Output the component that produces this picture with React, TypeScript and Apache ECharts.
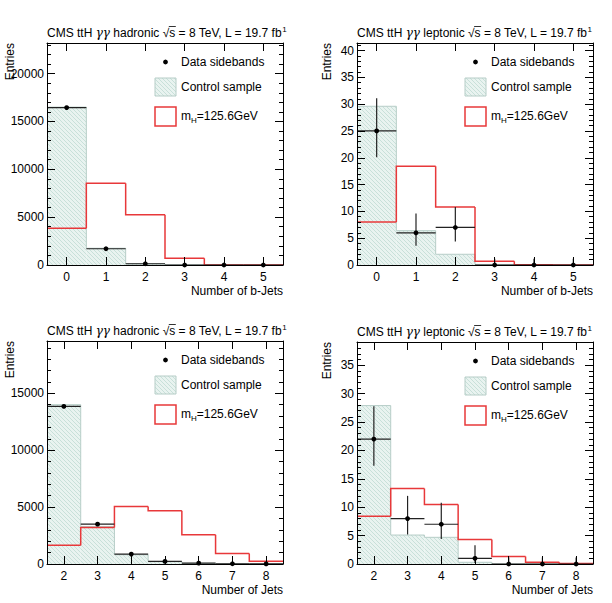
import React, { useEffect, useRef } from "react";
import * as echarts from "echarts";

// ---------------- data ----------------
const bjetCats = [0, 1, 2, 3, 4, 5];
const jetCats = [2, 3, 4, 5, 6, 7, 8];

// hadronic, number of b-jets
const hadBjetControl = [16500, 1750, 130, 10, 0, 0];
const hadBjetData = [16450, 1700, 130, 0, 0, 0];
const hadBjetErrUp = [128, 41, 11, 1.15, 1.15, 1.15];
const hadBjetErrDown = [128, 41, 11, 0, 0, 0];
const hadBjetSignal = [3840, 8550, 5240, 700, 0, 0];

// leptonic, number of b-jets
const lepBjetControl = [29.6, 6.4, 2.0, 0.1, 0, 0];
const lepBjetData = [25, 6, 7, 0, 0, 0];
const lepBjetErrUp = [6.1, 3.6, 3.8, 1.15, 1.15, 1.15];
const lepBjetErrDown = [4.9, 2.4, 2.6, 0, 0, 0];
const lepBjetSignal = [8.0, 18.4, 10.8, 0.7, 0.03, 0.02];

// hadronic, number of jets
const hadJetControl = [14000, 3300, 815, 200, 60, 15, 5];
const hadJetData = [13850, 3500, 870, 230, 80, 20, 5];
const hadJetErrUp = [118, 59, 30, 15, 9, 4.5, 2.2];
const hadJetErrDown = [118, 59, 30, 15, 9, 4.5, 2.2];
const hadJetSignal = [1650, 3200, 5050, 4675, 2570, 930, 240];

// leptonic, number of jets
const lepJetControl = [27.9, 5.1, 4.7, 0.3, 0, 0, 0];
const lepJetData = [22, 8, 7, 1, 0, 0, 0];
const lepJetErrUp = [5.8, 4.0, 3.8, 2.3, 1.15, 1.15, 1.15];
const lepJetErrDown = [4.7, 2.8, 2.6, 0.83, 0, 0, 0];
const lepJetSignal = [8.4, 13.3, 10.5, 4.3, 1.3, 0.3, 0.1];

// axis ranges / tick labels
const hadBjetYTicks = [0, 5000, 10000, 15000, 20000];
const lepBjetYTicks = [0, 5, 10, 15, 20, 25, 30, 35, 40];
const hadJetYTicks = [0, 5000, 10000, 15000];
const lepJetYTicks = [0, 5, 10, 15, 20, 25, 30, 35];
const yMaxes = [23200, 41.4, 19600, 39.1];
const yMinorSteps = [1000, 1, 1000, 1];

const channels = ["hadronic", "leptonic", "hadronic", "leptonic"];
const xTitles = ["Number of b-Jets", "Number of b-Jets", "Number of Jets", "Number of Jets"];
const legendLabels = ["Data sidebands", "Control sample"];

// ---------------- layout ----------------
const layouts = [
  { left: 47, top: 43, width: 236, height: 222 },
  { left: 357, top: 43, width: 236, height: 222 },
  { left: 47, top: 341, width: 236, height: 223 },
  { left: 357, top: 342, width: 236, height: 222 },
];
const FONT = '"Liberation Sans", Arial, Helvetica, sans-serif';
const GFONT = '"DejaVu Serif", serif';
const RED = "#e8383a";
const CTRL_LINE = "#b6cdc7";

const panels = [
  { cats: bjetCats, control: hadBjetControl, data: hadBjetData, up: hadBjetErrUp, down: hadBjetErrDown, signal: hadBjetSignal, yTicks: hadBjetYTicks },
  { cats: bjetCats, control: lepBjetControl, data: lepBjetData, up: lepBjetErrUp, down: lepBjetErrDown, signal: lepBjetSignal, yTicks: lepBjetYTicks },
  { cats: jetCats, control: hadJetControl, data: hadJetData, up: hadJetErrUp, down: hadJetErrDown, signal: hadJetSignal, yTicks: hadJetYTicks },
  { cats: jetCats, control: lepJetControl, data: lepJetData, up: lepJetErrUp, down: lepJetErrDown, signal: lepJetSignal, yTicks: lepJetYTicks },
];

function makeHatch(): any {
  const c = document.createElement("canvas");
  c.width = 4;
  c.height = 4;
  const ctx = c.getContext("2d")!;
  ctx.fillStyle = "#e9f3f0";
  ctx.fillRect(0, 0, 4, 4);
  ctx.strokeStyle = "#c8e0d9";
  ctx.lineWidth = 1;
  ctx.beginPath();
  ctx.moveTo(0, 0);
  ctx.lineTo(4, 4);
  ctx.moveTo(-1, 3);
  ctx.lineTo(1, 5);
  ctx.moveTo(3, -1);
  ctx.lineTo(5, 1);
  ctx.stroke();
  return { image: c, repeat: "repeat" };
}

function measure(text: string, font: string): number {
  const c = document.createElement("canvas");
  const ctx = c.getContext("2d")!;
  ctx.font = font;
  return ctx.measureText(text).width;
}

function buildOption(hatch: any) {
  const grid: any[] = [];
  const xAxis: any[] = [];
  const yAxis: any[] = [];
  const series: any[] = [];
  const graphic: any[] = [];

  panels.forEach((p, i) => {
    const L = layouts[i];
    grid.push({ ...L, containLabel: false, outerBoundsMode: "none" });
    const xmin = p.cats[0] - 0.5;
    const xmax = p.cats[p.cats.length - 1] + 0.5;
    const baseX = {
      type: "value",
      gridIndex: i,
      min: xmin,
      max: xmax,
      z: 5,
      splitLine: { show: false },
      axisLine: { show: true, onZero: false, lineStyle: { color: "#000", width: 1 } },
    };
    xAxis.push({
      ...baseX,
      position: "bottom",
      axisTick: { show: true, inside: true, length: 8, customValues: p.cats, lineStyle: { color: "#000" } },
      axisLabel: { show: true, customValues: p.cats, color: "#000", fontSize: 12, fontFamily: FONT, margin: 6, formatter: (v: number) => String(v) },
    });
    xAxis.push({
      ...baseX,
      position: "top",
      axisTick: { show: true, inside: true, length: 8, customValues: p.cats, lineStyle: { color: "#000" } },
      axisLabel: { show: false },
    });
    const ymax = yMaxes[i];
    const minors: number[] = [];
    for (let v = 0; v <= ymax + 1e-9; v += yMinorSteps[i]) minors.push(v);
    const baseY = {
      type: "value",
      gridIndex: i,
      min: 0,
      max: ymax,
      z: 5,
      splitLine: { show: false },
    };
    yAxis.push({
      ...baseY,
      position: "left",
      axisLine: { show: true, onZero: false, lineStyle: { color: "#000", width: 1 } },
      axisTick: { show: true, inside: true, length: 8, customValues: p.yTicks, lineStyle: { color: "#000" } },
      axisLabel: { show: true, customValues: p.yTicks, color: "#000", fontSize: 12, fontFamily: FONT, margin: 3, formatter: (v: number) => String(v) },
    });
    yAxis.push({
      ...baseY,
      position: "left",
      axisLine: { show: false, onZero: false },
      axisTick: { show: true, inside: true, length: 4, customValues: minors, lineStyle: { color: "#000" } },
      axisLabel: { show: false },
    });
    yAxis.push({
      ...baseY,
      position: "right",
      axisLine: { show: true, onZero: false, lineStyle: { color: "#000", width: 1 } },
      axisTick: { show: true, inside: true, length: 8, customValues: p.yTicks, lineStyle: { color: "#000" } },
      axisLabel: { show: false },
    });
    yAxis.push({
      ...baseY,
      position: "right",
      axisLine: { show: false, onZero: false },
      axisTick: { show: true, inside: true, length: 4, customValues: minors, lineStyle: { color: "#000" } },
      axisLabel: { show: false },
    });

    const xi = 2 * i;
    const yi = 4 * i;

    // control sample fill
    series.push({
      type: "custom",
      name: "Control sample",
      coordinateSystem: "cartesian2d",
      xAxisIndex: xi,
      yAxisIndex: yi,
      z: 1,
      silent: true,
      data: p.cats.map((c, k) => [c, p.control[k]]),
      encode: { x: 0, y: 1 },
      renderItem: (params: any, api: any) => {
        const x = api.value(0);
        const v = api.value(1);
        const a = api.coord([x - 0.5, v]);
        const b = api.coord([x + 0.5, 0]);
        return {
          type: "rect",
          shape: { x: a[0], y: a[1], width: b[0] - a[0], height: b[1] - a[1] },
          style: { fill: hatch, stroke: null },
        };
      },
    });

    const stepSeries = (vals: number[], color: string, width: number, z: number, name: string) => ({
      type: "custom",
      name,
      coordinateSystem: "cartesian2d",
      xAxisIndex: xi,
      yAxisIndex: yi,
      z,
      silent: true,
      data: p.cats.map((c, k) => [c, vals[k], k > 0 ? vals[k - 1] : vals[k]]),
      encode: { x: 0, y: 1 },
      renderItem: (params: any, api: any) => {
        const x = api.value(0);
        const v = api.value(1);
        const prev = api.value(2);
        const a = api.coord([x - 0.5, prev]);
        const b = api.coord([x - 0.5, v]);
        const c = api.coord([x + 0.5, v]);
        return {
          type: "polyline",
          shape: { points: [a, b, c] },
          style: { stroke: color, lineWidth: width, fill: null },
        };
      },
    });
    series.push(stepSeries(p.control, CTRL_LINE, 1, 2, "Control outline"));
    series.push(stepSeries(p.signal, RED, 1.5, 3, "Signal"));

    // data points
    series.push({
      type: "custom",
      name: "Data sidebands",
      coordinateSystem: "cartesian2d",
      xAxisIndex: xi,
      yAxisIndex: yi,
      z: 4,
      silent: true,
      data: p.cats.map((c, k) => [c, p.data[k], p.up[k], p.down[k]]),
      encode: { x: 0, y: 1 },
      renderItem: (params: any, api: any) => {
        const x = api.value(0);
        const v = api.value(1);
        const up = api.value(2);
        const dn = api.value(3);
        const l = api.coord([x - 0.5, v]);
        const r = api.coord([x + 0.5, v]);
        const t = api.coord([x, v + up]);
        const bt = api.coord([x, Math.max(0, v - dn)]);
        const c = api.coord([x, v]);
        return {
          type: "group",
          children: [
            { type: "line", shape: { x1: l[0], y1: l[1], x2: r[0], y2: r[1] }, style: { stroke: "#222", lineWidth: 1.2 } },
            { type: "line", shape: { x1: t[0], y1: t[1], x2: bt[0], y2: bt[1] }, style: { stroke: "#222", lineWidth: 1.2 } },
            { type: "circle", shape: { cx: c[0], cy: c[1], r: 2.4 }, style: { fill: "#000" } },
          ],
        };
      },
    });

    // title
    const ty = L.top - 10;
    graphic.push({
      type: "text",
      x: L.left,
      y: ty,
      style: {
        text: `{n|CMS ttH }{g|γγ}{n| ${channels[i]} √s = 8 TeV, L = 19.7 fb}{sup|1}`,
        rich: {
          n: { fontSize: 12, lineHeight: 16, fontFamily: FONT, fill: "#000" },
          g: { fontSize: 12, lineHeight: 16, fontFamily: GFONT, fontStyle: "italic", fill: "#000" },
          sup: { fontSize: 8, lineHeight: 9, verticalAlign: "top", fontFamily: FONT, fill: "#000" },
        },
        align: "left",
        verticalAlign: "middle",
      },
    });
    // overline over the "s" of √s
    const nf = `12px ${FONT}`;
    const sx =
      L.left +
      measure("CMS ttH ", nf) +
      measure("γγ", `italic 12px ${GFONT}`) +
      measure(` ${channels[i]} √`, nf);
    const sw = measure("s", nf);
    graphic.push({
      type: "line",
      shape: { x1: sx - 0.5, y1: ty - 6.5, x2: sx + sw + 0.5, y2: ty - 6.5 },
      style: { stroke: "#000", lineWidth: 0.8 },
    });

    // y title
    graphic.push({
      type: "text",
      x: L.left - (i % 2 === 0 ? 37 : 30),
      y: L.top,
      rotation: Math.PI / 2,
      style: { text: "Entries", fontSize: 12, fontFamily: FONT, fill: "#000", align: "right", verticalAlign: "middle" },
    });

    // x title
    graphic.push({
      type: "text",
      x: L.left + L.width,
      y: L.top + L.height + 26,
      style: { text: xTitles[i], fontSize: 12, fontFamily: FONT, fill: "#000", align: "right", verticalAlign: "middle" },
    });

    // legend
    const lx = L.left + 108;
    const tx = L.left + 134;
    graphic.push({ type: "circle", shape: { cx: L.left + 118.5, cy: L.top + 19, r: 2.4 }, style: { fill: "#000" }, z: 10 });
    graphic.push({ type: "text", x: tx, y: L.top + 19, style: { text: legendLabels[0], fontSize: 12, fontFamily: FONT, fill: "#000", verticalAlign: "middle" }, z: 10 });
    graphic.push({ type: "rect", shape: { x: lx, y: L.top + 35, width: 21, height: 18 }, style: { fill: hatch, stroke: CTRL_LINE, lineWidth: 1 }, z: 10 });
    graphic.push({ type: "text", x: tx, y: L.top + 44, style: { text: legendLabels[1], fontSize: 12, fontFamily: FONT, fill: "#000", verticalAlign: "middle" }, z: 10 });
    graphic.push({ type: "rect", shape: { x: lx, y: L.top + 64, width: 21, height: 19 }, style: { fill: "#fff", stroke: RED, lineWidth: 1.5 }, z: 10 });
    graphic.push({
      type: "text",
      x: tx,
      y: L.top + 73,
      style: {
        text: "{n|m}{sub|H}{n|=125.6GeV}",
        rich: {
          n: { fontSize: 12, lineHeight: 16, fontFamily: FONT, fill: "#000" },
          sub: { fontSize: 8, lineHeight: 9, verticalAlign: "bottom", fontFamily: FONT, fill: "#000" },
        },
        verticalAlign: "middle",
      },
      z: 10,
    });
  });

  return { animation: false, backgroundColor: "#fff", grid, xAxis, yAxis, series, graphic };
}

export default function App() {
  const ref = useRef<HTMLDivElement>(null);
  useEffect(() => {
    document.body.style.margin = "0";
    if (!ref.current) return;
    const chart = echarts.init(ref.current, undefined, { renderer: "svg" });
    chart.setOption(buildOption(makeHatch()));
    return () => chart.dispose();
  }, []);
  return <div ref={ref} style={{ width: 612, height: 603 }} />;
}
